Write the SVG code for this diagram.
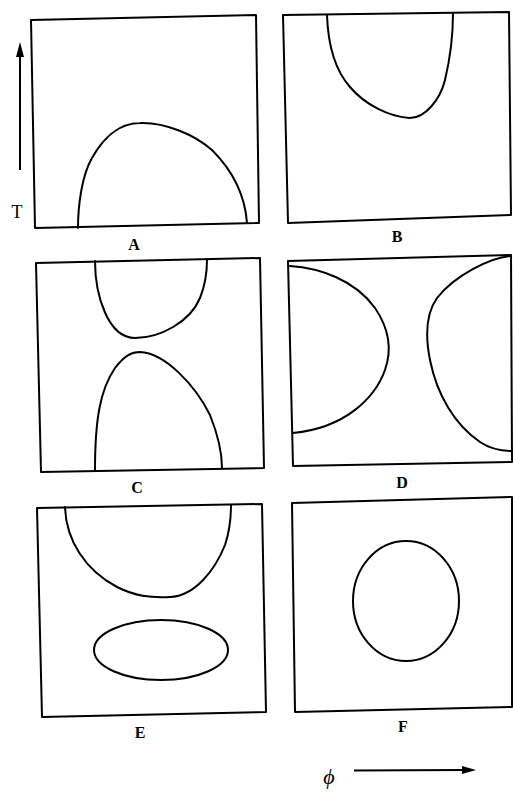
<svg xmlns="http://www.w3.org/2000/svg" width="513" height="792" viewBox="0 0 513 792">
<style>
.box{fill:none;stroke:#000;stroke-width:2;stroke-linejoin:round}
.cv{fill:none;stroke:#000;stroke-width:2;stroke-linecap:round}
.lbl{font-family:"Liberation Serif",serif;font-weight:bold;font-size:16px;text-anchor:middle}
</style>
<rect width="513" height="792" fill="#fff"/>
<g id="axisT">
<line x1="20" y1="170" x2="20" y2="54" stroke="#000" stroke-width="2"/>
<polygon points="20,42 16,57 24,57" fill="#000"/>
<text x="17" y="218" font-family="'Liberation Serif',serif" font-size="18" text-anchor="middle">T</text>
</g>
<g id="axisPhi">
<line x1="354" y1="770.5" x2="464" y2="770" stroke="#000" stroke-width="2"/>
<polygon points="476,770 462,766 462,774" fill="#000"/>
<text x="329" y="784" font-family="'Liberation Serif',serif" font-style="italic" font-size="22" text-anchor="middle">ϕ</text>
</g>
<g id="panelA">
<polygon class="box" points="31,20 256,15 259,223 35,228"/>
<path class="cv" d="M78,228 C78,205 82,175 92,158 C102,140 118,123 140,123 C165,122 195,135 212,150 C232,170 245,195 247,223"/>
<text class="lbl" x="134" y="250">A</text>
</g>
<g id="panelB">
<polygon class="box" points="283,15 509,12 511,215 288,223"/>
<path class="cv" d="M327,15 C328,45 335,70 350,87 C365,105 390,117 410,118 C425,118 440,100 445,80 C451,55 453,30 453,13"/>
<text class="lbl" x="397" y="242">B</text>
</g>
<g id="panelC">
<polygon class="box" points="36,263 260,258 264,468 41,472"/>
<path class="cv" d="M95,261 C95,295 108,338 135,338 C160,338 190,322 200,298 C206,283 207,270 207,260"/>
<path class="cv" d="M95,470 C95,420 100,390 115,368 C125,355 132,352 140,352 C165,353 195,385 210,415 C218,435 222,450 222,468"/>
<text class="lbl" x="137" y="493">C</text>
</g>
<g id="panelD">
<polygon class="box" points="288,261 511,255 512,462 293,466"/>
<path class="cv" d="M290,266 C320,268 355,280 375,308 C390,330 392,350 385,370 C375,398 345,428 293,433"/>
<path class="cv" d="M510,256 C490,258 455,275 437,298 C425,315 426,340 430,360 C437,395 455,425 480,442 C492,450 505,451 512,451"/>
<text class="lbl" x="402" y="488">D</text>
</g>
<g id="panelE">
<polygon class="box" points="37,508 262,504 266,712 42,717"/>
<path class="cv" d="M65,507 C66,540 85,570 117,587 C135,596 150,598 170,597 C195,596 215,570 225,545 C230,530 231,515 231,505"/>
<ellipse class="cv" cx="161" cy="650" rx="67" ry="30"/>
<text class="lbl" x="140" y="738">E</text>
</g>
<g id="panelF">
<polygon class="box" points="292,503 512,497 512,707 295,712"/>
<ellipse class="cv" cx="406" cy="601" rx="53" ry="60"/>
<text class="lbl" x="403" y="732">F</text>
</g>
</svg>
